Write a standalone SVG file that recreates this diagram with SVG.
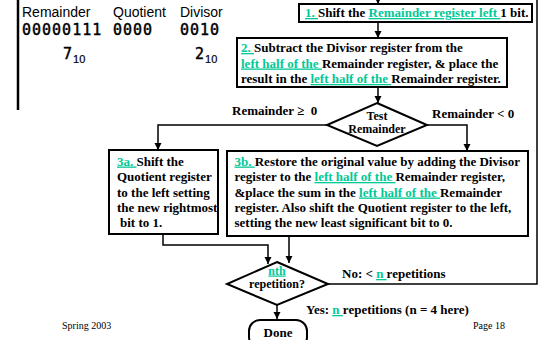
<svg xmlns="http://www.w3.org/2000/svg" width="539" height="340" viewBox="0 0 539 340">
<style>
.b{font-family:"Liberation Serif","Times New Roman",serif;font-weight:bold;font-size:13px;fill:#000}
.s{font-size:12px}
.t{fill:#00C896;text-decoration:underline}
.box{fill:#fff;stroke:#000;stroke-width:2}
.c{fill:none;stroke:#000;stroke-width:1.5}
.hd{font-family:"Liberation Sans",Arial,sans-serif;font-size:14px;fill:#000}
.mono{font-family:"DejaVu Sans Mono",monospace;font-size:15px;letter-spacing:1px;fill:#000;stroke:#000;stroke-width:0.45}
.sub{font-family:"Liberation Sans",Arial,sans-serif;font-size:11px;letter-spacing:0;stroke-width:0.2}
.ft{font-family:"Liberation Serif","Times New Roman",serif;font-size:10px;fill:#000}
</style>
<defs>
<marker id="ah" markerUnits="userSpaceOnUse" markerWidth="8" markerHeight="8" refX="7" refY="4" orient="auto">
<path d="M0,0.5 L7,4 L0,7.5 Z" fill="#000"/>
</marker>
</defs>
<rect width="539" height="340" fill="#fff"/>

<g id="header">
<line x1="18" y1="0" x2="18" y2="110" stroke="#000" stroke-width="2.5"/>
<text class="hd" x="22" y="17">Remainder</text>
<text class="hd" x="113" y="17">Quotient</text>
<text class="hd" x="180" y="17">Divisor</text>
<text class="mono" x="22" y="35">00000111</text>
<text class="mono" x="113" y="35">0000</text>
<text class="mono" x="180" y="35">0010</text>
<text class="mono" x="63" y="59">7<tspan class="sub" dy="4">10</tspan></text>
<text class="mono" x="195" y="59">2<tspan class="sub" dy="4">10</tspan></text>
</g>

<g id="connectors">
<path class="c" d="M328,284 H537 V0"/>
<path class="c" d="M378,-2 V4" marker-end="url(#ah)"/>
<path class="c" d="M378,22 V38" marker-end="url(#ah)"/>
<path class="c" d="M378,87 V103" marker-end="url(#ah)"/>
<path class="c" d="M327,125 H158 V150" marker-end="url(#ah)"/>
<path class="c" d="M427,125 H467 V151" marker-end="url(#ah)"/>
<path class="c" d="M163,234 V245 H268 V264" marker-end="url(#ah)"/>
<path class="c" d="M289,236 V263" marker-end="url(#ah)"/>
<path class="c" d="M277,305 V319" marker-end="url(#ah)"/>
</g>

<g id="step1">
<rect class="box" x="299" y="4" width="233" height="18"/>
<text class="b" x="305" y="17"><tspan class="t">1. </tspan>Shift the <tspan class="t">Remainder register left </tspan>1 bit.</text>
</g>

<g id="step2">
<rect class="box" x="237" y="38" width="270" height="49"/>
<text class="b" x="241" y="52"><tspan class="t">2. </tspan>Subtract the Divisor register from the</text>
<text class="b" x="241" y="67.5"><tspan class="t">left half of the </tspan>Remainder register, &amp; place the</text>
<text class="b" x="241" y="83">result in the <tspan class="t">left half of the </tspan>Remainder register.</text>
</g>

<g id="test">
<path class="box" d="M377,103 L427,125 L377,146 L327,125 Z"/>
<text class="b s" x="377" y="120" text-anchor="middle">Test</text>
<text class="b s" x="377" y="132.5" text-anchor="middle">Remainder</text>
</g>

<g id="labels">
<text class="b" x="232" y="115" xml:space="preserve">Remainder ≥  0</text>
<text class="b" x="432" y="118">Remainder &lt; 0</text>
<text class="b" x="342" y="278">No: &lt; <tspan class="t">n </tspan>repetitions</text>
<text class="b" x="306" y="314">Yes: <tspan class="t">n </tspan>repetitions (n = 4 here)</text>
</g>

<g id="step3a">
<rect class="box" x="109" y="150" width="109" height="84"/>
<text class="b" x="117" y="165.5"><tspan class="t">3a. </tspan>Shift the</text>
<text class="b" x="117" y="181">Quotient register</text>
<text class="b" x="117" y="196.5">to the left setting</text>
<text class="b" x="117" y="212">the new rightmost</text>
<text class="b" x="120" y="227"> bit to 1.</text>
</g>

<g id="step3b">
<rect class="box" x="227" y="151" width="301" height="85"/>
<text class="b" x="234.5" y="165.5"><tspan class="t">3b. </tspan>Restore the original value by adding the Divisor</text>
<text class="b" x="234.5" y="181">register to the <tspan class="t">left half of the </tspan>Remainder register,</text>
<text class="b" x="234.5" y="196.5">&amp;place the sum in the <tspan class="t">left half of the </tspan>Remainder</text>
<text class="b" x="234.5" y="212">register. Also shift the Quotient register to the left,</text>
<text class="b" x="234.5" y="227">setting the new least significant bit to 0.</text>
</g>

<g id="nth">
<path class="box" d="M277,262 L328,284 L277,305 L227,284 Z"/>
<text class="b s" x="277" y="274.5" text-anchor="middle"><tspan class="t">nth</tspan></text>
<text class="b s" x="277" y="288" text-anchor="middle">repetition?</text>
</g>

<g id="done">
<rect class="box" x="249" y="320" width="58" height="28" rx="11"/>
<text class="b" x="278" y="337" text-anchor="middle">Done</text>
</g>

<g id="footer">
<text class="ft" x="62" y="329">Spring 2003</text>
<text class="ft" x="473" y="329">Page 18</text>
</g>
</svg>
